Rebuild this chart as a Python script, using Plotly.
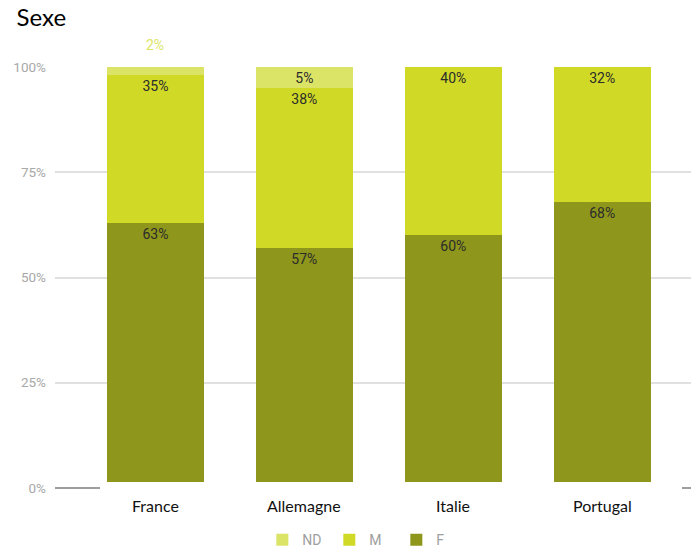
import plotly.graph_objects as go

countries = ["France", "Allemagne", "Italie", "Portugal"]
f_vals = [63, 57, 60, 68]
m_vals = [35, 38, 40, 32]
nd_vals = [2, 5, 0, 0]
y_ticks = [0, 25, 50, 75, 100]
y_tick_labels = ["0%", "25%", "50%", "75%", "100%"]

C_F = "#8e971b"
C_M = "#d0da26"
C_ND = "#dce468"
TXT = dict(family="Roboto", size=14, color="#2b2b2b")

fig = go.Figure()

def labels(vals, minv=1):
    return [f"{v}%" if v >= minv else "" for v in vals]

fig.add_trace(go.Bar(
    name="F", x=countries, y=f_vals, marker=dict(color=C_F, line=dict(width=0)),
    text=labels(f_vals), textposition="inside", insidetextanchor="end",
    textfont=TXT, width=0.65, constraintext="none",
))
fig.add_trace(go.Bar(
    name="M", x=countries, y=m_vals, marker=dict(color=C_M, line=dict(width=0)),
    text=labels(m_vals), textposition="inside", insidetextanchor="end",
    textfont=TXT, width=0.65, constraintext="none",
))
fig.add_trace(go.Bar(
    name="ND", x=countries, y=nd_vals, marker=dict(color=C_ND, line=dict(width=0)),
    text=labels(nd_vals, 4), textposition="inside", insidetextanchor="end",
    textfont=TXT, width=0.65, constraintext="none",
))

annotations = []
for c, f, m, nd in zip(countries, f_vals, m_vals, nd_vals):
    if 0 < nd < 4:
        annotations.append(dict(
            x=c, y=f + m + nd, xref="x", yref="y", text=f"{nd}%", showarrow=False,
            yanchor="middle", yshift=22,
            font=dict(family="Roboto", size=14, color=C_ND),
        ))
for c in countries:
    annotations.append(dict(
        x=c, y=0, xref="x", yref="paper", text=c, showarrow=False,
        yanchor="middle", yshift=-17,
        font=dict(family="Lato", size=16, color="#111111"),
    ))

fig.update_layout(
    barmode="stack",
    width=691, height=551,
    margin=dict(l=55, r=0, t=67, b=63, autoexpand=False),
    paper_bgcolor="white", plot_bgcolor="white",
    title=dict(text="Sexe", x=0.024, xanchor="left", y=0.968, yanchor="middle",
               font=dict(family="Lato", size=24, color="#000000")),
    showlegend=True,
    legend=dict(orientation="h", traceorder="reversed", x=0.484, xanchor="center",
                y=-0.124, yanchor="middle", entrywidth=22,
                font=dict(family="Roboto", size=14, color="#9e9e9e")),
    xaxis=dict(range=[-0.674, 3.596], showticklabels=False, showgrid=False,
               zeroline=False, showline=False, ticks="", automargin=False),
    yaxis=dict(range=[0, 100], tickvals=y_ticks, ticktext=y_tick_labels,
               showgrid=True, gridcolor="#e0e0e0", gridwidth=1.5,
               zeroline=True, zerolinecolor="#9e9e9e", zerolinewidth=1.5,
               tickfont=dict(family="Roboto", size=13.5, color="#a8a8a8"),
               ticks="", ticklabelstandoff=8, showline=False, automargin=False),
    annotations=annotations,
    shapes=[dict(type="rect", xref="paper", yref="paper",
                 x0=(100 - 55) / 636, x1=(682 - 55) / 636,
                 y0=-0.09, y1=6 / 421, layer="above",
                 fillcolor="white", line=dict(width=0))],
)
fig.update_traces(cliponaxis=False)

fig.write_html("out.html", config={"displayModeBar": False},
               post_script="document.body.style.margin='0';document.body.style.padding='0';")
